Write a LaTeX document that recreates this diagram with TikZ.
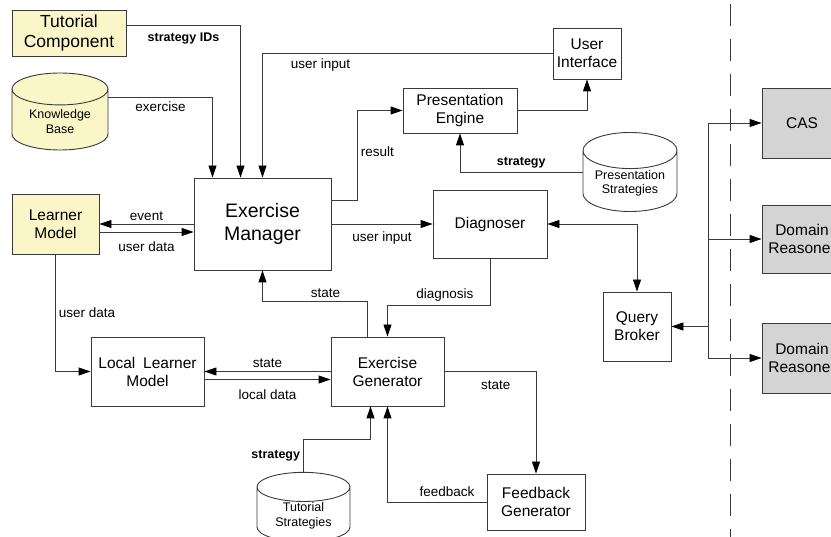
\documentclass[tikz,border=0pt]{standalone}
\usepackage{fontspec}
\setmainfont{Liberation Sans}
\usetikzlibrary{shapes.geometric,arrows.meta,positioning}

\definecolor{notepad}{HTML}{FBF6C8}
\definecolor{extgray}{HTML}{D4D4D4}
\definecolor{wire}{HTML}{3A3A3A}

\begin{document}
\begin{tikzpicture}[x=1pt,y=-1pt,>={Triangle[length=12pt,width=8pt,color=black]},
  box/.style={draw=wire,line width=0.9pt,fill=white,align=center,
    font=\fontsize{15.5}{18}\selectfont,inner sep=2pt},
  tutor/.style={box,fill=notepad},
  outside/.style={box,fill=extgray},
  store/.style={cylinder,shape border rotate=90,aspect=0.5,draw=wire,anchor=shape center,
    line width=0.9pt,align=center,inner sep=1pt,font=\fontsize{12.5}{14.5}\selectfont},
  flow/.style={draw=wire,line width=0.9pt},
  lbl/.style={font=\fontsize{13.5}{16}\selectfont,inner sep=3pt},
  blbl/.style={inner sep=3pt,font=\fontsize{12.5}{15}\selectfont\bfseries}]
  \useasboundingbox (0,0) rectangle (831,537);
  \clip (0,0) rectangle (831,537);

  % tutorial side
  \node[tutor,minimum width=114pt,minimum height=46pt,font=\fontsize{17.5}{20}\selectfont]
       (tut) at (69,33) {Tutorial\\Component};
  \node[store,fill=notepad,minimum width=96pt,minimum height=77pt]
       (kb) at (60,111.5) {Knowledge\\Base};
  \node[tutor,minimum width=87pt,minimum height=60pt] (lm) at (55.5,224) {Learner\\Model};

  % core boxes
  \node[box,minimum width=137pt,minimum height=92pt,font=\fontsize{19.5}{23}\selectfont]
       (em) at (262.5,224) {Exercise\\Manager};
  \node[box,minimum width=68pt,minimum height=51pt] (ui) at (587,53.5) {User\\Interface};
  \node[box,minimum width=114pt,minimum height=45pt] (pe) at (460,110.5) {Presentation\\Engine};
  \node[store,fill=white,minimum width=94pt,minimum height=70pt]
       (ps) at (630,172) {Presentation\\Strategies};
  \node[box,minimum width=114pt,minimum height=68pt] (dg) at (490,224) {Diagnoser};
  \node[box,minimum width=68pt,minimum height=69pt] (qb) at (637,326.5) {Query\\Broker};
  \node[box,minimum width=113pt,minimum height=69pt] (llm) at (147.5,371.5) {Local\enspace Learner\\Model};
  \node[box,minimum width=113pt,minimum height=69pt] (eg) at (387.5,371.5) {Exercise\\Generator};
  \node[store,fill=white,minimum width=93pt,minimum height=68pt]
       (ts) at (303.5,507) {Tutorial\\Strategies};
  \node[box,minimum width=98pt,minimum height=56pt] (fg) at (536,502) {Feedback\\Generator};

  % external reasoners
  \node[outside,minimum width=80pt,minimum height=70pt] (cas) at (802,123) {CAS};
  \node[outside,minimum width=80pt,minimum height=68pt] (dr1) at (802,239) {Domain\\Reasoner};
  \node[outside,minimum width=80pt,minimum height=70pt] (dr2) at (802,358) {Domain\\Reasoner};
  \draw[wire,line width=0.9pt,dash pattern=on 22pt off 13pt] (730,4) -- (730,537);

  % flows into the manager
  \draw[flow,->] ([yshift=8pt]tut.east) -| ([xshift=-22pt]em.north)
       node[blbl,pos=0.25,below=4pt] {strategy IDs};
  \draw[flow,->] ([yshift=14.5pt]kb.shape center -| kb.east) -| ([xshift=-50pt]em.north)
       node[lbl,pos=0.25,below=1pt] {exercise};
  \draw[flow,->] (ui.west) -| (em.north) node[lbl,pos=0.4,below=2pt] {user input};

  % presentation
  \draw[flow,->] ([yshift=24pt]em.east) -- ++(26,0) |- (pe.west)
       node[lbl,pos=0.27,right] {result};
  \draw[flow,->] (pe.east) -| (ui.south);
  \draw[flow,->] (ps.shape center -| ps.west) -| (pe.south)
       node[blbl,pos=0.25,above] {strategy};

  % learner model
  \draw[flow,->] (em.west) -- (lm.east) node[lbl,midway,above] {event};
  \draw[flow,->] ([yshift=-8pt]lm.east) -- ([yshift=-8pt]em.west)
       node[lbl,midway,below=6pt] {user data};
  \draw[flow,->] (lm.south) |- (llm.west) node[lbl,pos=0.25,right] {user data};
  \draw[flow,->] (eg.west) -- (llm.east) node[lbl,midway,above] {state};
  \draw[flow,->] ([yshift=-8pt]llm.east) -- ([yshift=-8pt]eg.west)
       node[lbl,midway,below=7pt] {local data};

  % diagnosis loop
  \draw[flow,->] (em.east) -- (dg.west) node[lbl,midway,below=4pt] {user input};
  \draw[flow,<->] (dg.east) -| (qb.north);
  \draw[flow,->] (dg.south) -- ++(0,47) -| (eg.north)
       node[lbl,pos=0.22,above=1pt] {diagnosis};
  \draw[flow,->] ([xshift=-20pt]eg.north) -- ++(0,-35) -| (em.south)
       node[lbl,pos=0.2,above] {state};

  % generator side
  \draw[flow,->] (eg.east) -| (fg.north) node[lbl,pos=0.28,below=6pt] {state};
  \draw[flow,->] (fg.west) -| (eg.south) node[lbl,pos=0.2,above=2pt] {feedback};
  \draw[flow,->] (ts.north) -- ++(0,-32) node[blbl,midway,left] {strategy}
       -| ([xshift=-17pt]eg.south);

  % broker bus
  \coordinate (bus) at (708,326.5);
  \draw[flow,->] (bus) -- (qb.east);
  \foreach \ext in {cas,dr1,dr2}
    \draw[flow,->] (bus) |- (\ext.west);
\end{tikzpicture}
\end{document}
